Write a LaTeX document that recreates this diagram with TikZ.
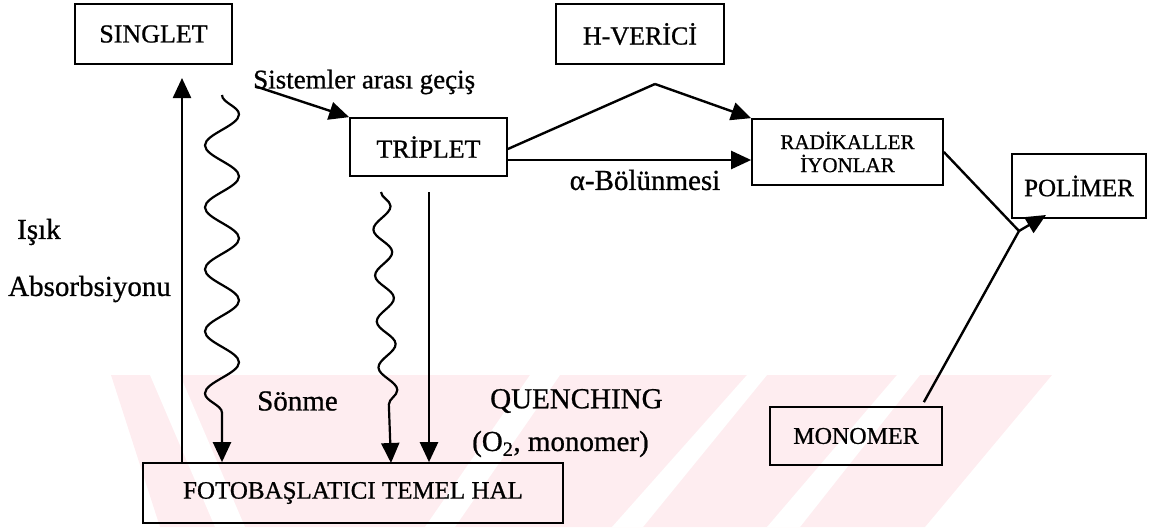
\documentclass[tikz,border=0pt]{standalone}
\usepackage{fontspec}
\setmainfont{Liberation Serif}[FakeBold=0.8]
\usetikzlibrary{arrows.meta,decorations.pathmorphing}
\definecolor{wm}{RGB}{254,237,240}
\begin{document}
\begin{tikzpicture}[x=1pt,y=-1pt,
  box/.style={draw, line width=1.7pt, inner sep=0pt, font=\fontsize{26}{30}\selectfont},
  lab/.style={inner sep=0pt, font=\fontsize{29}{32}\selectfont},
  conn/.style={line width=2.4pt},
  arr/.style={line width=2.4pt, -{Triangle[length=20pt,width=18pt]}},
  wave/.style={line width=2.2pt, -{Triangle[length=20pt,width=18pt]}, decorate,
    decoration={snake, segment length=#1}},
]
\useasboundingbox (0,0) rectangle (1161,527);
% watermark
\fill[wm] (111,375) -- (1052,375) -- (925,527) -- (160,527) -- cycle;
\fill[white] (150,375) -- (180,375) -- (245,527) -- (215,527) -- cycle;
\fill[white] (425,527) -- (455,527) -- (560,375) -- (530,375) -- cycle;
\fill[white] (612,527) -- (643,527) -- (767,375) -- (747,375) -- cycle;
\fill[white] (767,527) -- (800,527) -- (920,375) -- (897,375) -- cycle;

% boxes
\node[box, minimum width=157pt, minimum height=60pt] (singlet) at (153.5,34) {SINGLET};
\node[box, minimum width=168pt, minimum height=60pt] (hverici) at (640,34) {H-VERİCİ};
\node[box, minimum width=157pt, minimum height=58pt] (triplet) at (428.5,147) {TRİPLET};
\node[box, minimum width=191pt, minimum height=66pt, align=center,
      font=\fontsize{21}{23}\selectfont] (radik) at (847.5,152) {RADİKALLER\\İYONLAR};
\node[box, minimum width=134pt, minimum height=64pt, font=\fontsize{25}{28}\selectfont] (polimer) at (1079,186) {POLİMER};
\node[box, minimum width=172pt, minimum height=58pt, font=\fontsize{24}{28}\selectfont] (monomer) at (856,436) {MONOMER};
\node[box, minimum width=420pt, minimum height=60pt, font=\fontsize{25}{28}\selectfont] (foto) at (353,493) {FOTOBAŞLATICI TEMEL HAL};

% labels
\node[lab, anchor=west, font=\fontsize{27}{30}\selectfont] (sis) at (253,82) {Sistemler arası geçiş};
\node[lab, anchor=west] (isik) at (17,232) {Işık};
\node[lab, anchor=west] (abs) at (8,289) {Absorbsiyonu};
\node[lab, anchor=west] (sonme) at (257,401) {Sönme};
\node[lab, anchor=west] (quen) at (490,401) {QUENCHING};
\node[lab, anchor=west] (o2) at (472,444) {(O\textsubscript{2}, monomer)};
\node[lab] (alpha) at (645,180) {α-Bölünmesi};

% coordinates
\coordinate (abstop) at (182,78);
\coordinate (w1s) at (222,95);
\coordinate (w2s) at (381,192);
\coordinate (qs) at (429,192);
\coordinate (hv) at (655,84);
\coordinate (join) at (1019,231);

% connectors
\draw[arr] (foto.north -| abstop) -- (abstop);
\draw[arr] (sis.south west) ++(3,-8) -- (triplet.north west);
\draw[wave=62pt, decoration={amplitude=17pt, post length=45pt}] (w1s) -- (w1s |- foto.north);
\draw[wave=46pt, decoration={amplitude=9pt, post length=40pt}] (w2s) -- (391,463);
\draw[arr] (qs) -- (qs |- foto.north);
\draw[conn] (triplet.east) ++(0,2) -- (hv);
\draw[arr] (hv) -- (radik.north west);
\draw[arr] (triplet.east |- 0,160) -- (radik.west |- 0,160);
\draw[conn] (radik.east) -- (join);
\draw[conn] (monomer.north east) ++(-19,-4) -- (join);
\draw[arr] (join) -- (1046,215);
\end{tikzpicture}
\end{document}
